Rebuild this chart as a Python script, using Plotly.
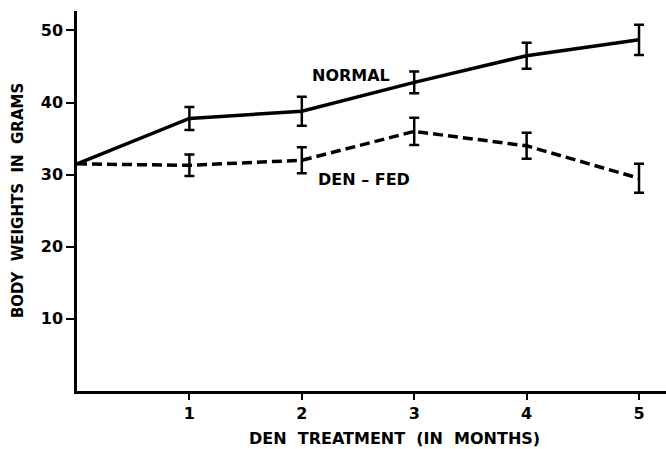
import plotly.graph_objects as go

months = [0, 1, 2, 3, 4, 5]
normal = [31.5, 37.8, 38.8, 42.8, 46.5, 48.7]
normal_err = [0, 1.6, 2.0, 1.5, 1.8, 2.1]
denfed = [31.5, 31.3, 32.0, 36.0, 34.0, 29.5]
denfed_err = [0, 1.5, 1.8, 1.9, 1.8, 2.0]
xticks = [1, 2, 3, 4, 5]
yticks = [10, 20, 30, 40, 50]

fig = go.Figure()
fig.add_trace(go.Scatter(
    x=months, y=normal, mode="lines", line=dict(color="black", width=3.5),
    error_y=dict(type="data", array=normal_err, color="black", thickness=2.5, width=5),
    showlegend=False))
fig.add_trace(go.Scatter(
    x=months, y=denfed, mode="lines", line=dict(color="black", width=3.5, dash="10px,5px"),
    error_y=dict(type="data", array=denfed_err, color="black", thickness=2.5, width=5),
    showlegend=False))

lab = dict(family="DejaVu Sans", size=16, color="black")
fig.add_annotation(x=2.44, y=43.8, text="<b>NORMAL</b>", showarrow=False, font=lab)
fig.add_annotation(x=2.55, y=29.4, text="<b>DEN – FED</b>", showarrow=False, font=lab)

fig.add_annotation(xref="paper", yref="paper", x=(394 - 77) / 589, y=-0.125,
                   xanchor="center", yanchor="middle",
                   text="<b>DEN  TREATMENT  (IN  MONTHS)</b>", showarrow=False,
                   font=dict(family="DejaVu Sans", size=16, color="black"))
fig.add_annotation(xref="paper", yref="paper", x=-0.1, xanchor="center", y=0.5,
                   yanchor="middle",
                   text="<b>BODY  WEIGHTS  IN  GRAMS</b>", showarrow=False, textangle=-90,
                   font=dict(family="DejaVu Sans", size=15, color="black"))

fig.update_layout(
    width=666, height=449, plot_bgcolor="white", paper_bgcolor="white",
    margin=dict(l=77, r=0, t=11, b=58),
    font=dict(family="DejaVu Sans", size=16, color="black"),
)
fig.update_xaxes(range=[0, 5.24], tickvals=xticks, ticktext=[f"<b>{t}</b>" for t in xticks],
                 showline=True, linecolor="black", linewidth=2.5, ticks="outside",
                 ticklen=6, tickwidth=2, tickcolor="black", showgrid=False, zeroline=False,
                 automargin=False)
fig.update_yaxes(range=[0, 52.7], tickvals=yticks, ticktext=[f"<b>{t}</b>" for t in yticks],
                 showline=True, linecolor="black", linewidth=2.5, ticks="outside",
                 ticklen=8, tickwidth=2, tickcolor="black", showgrid=False, zeroline=False,
                 automargin=False)
fig.write_html("out.html", config={"displayModeBar": False},
               post_script="document.body.style.margin='0';")
